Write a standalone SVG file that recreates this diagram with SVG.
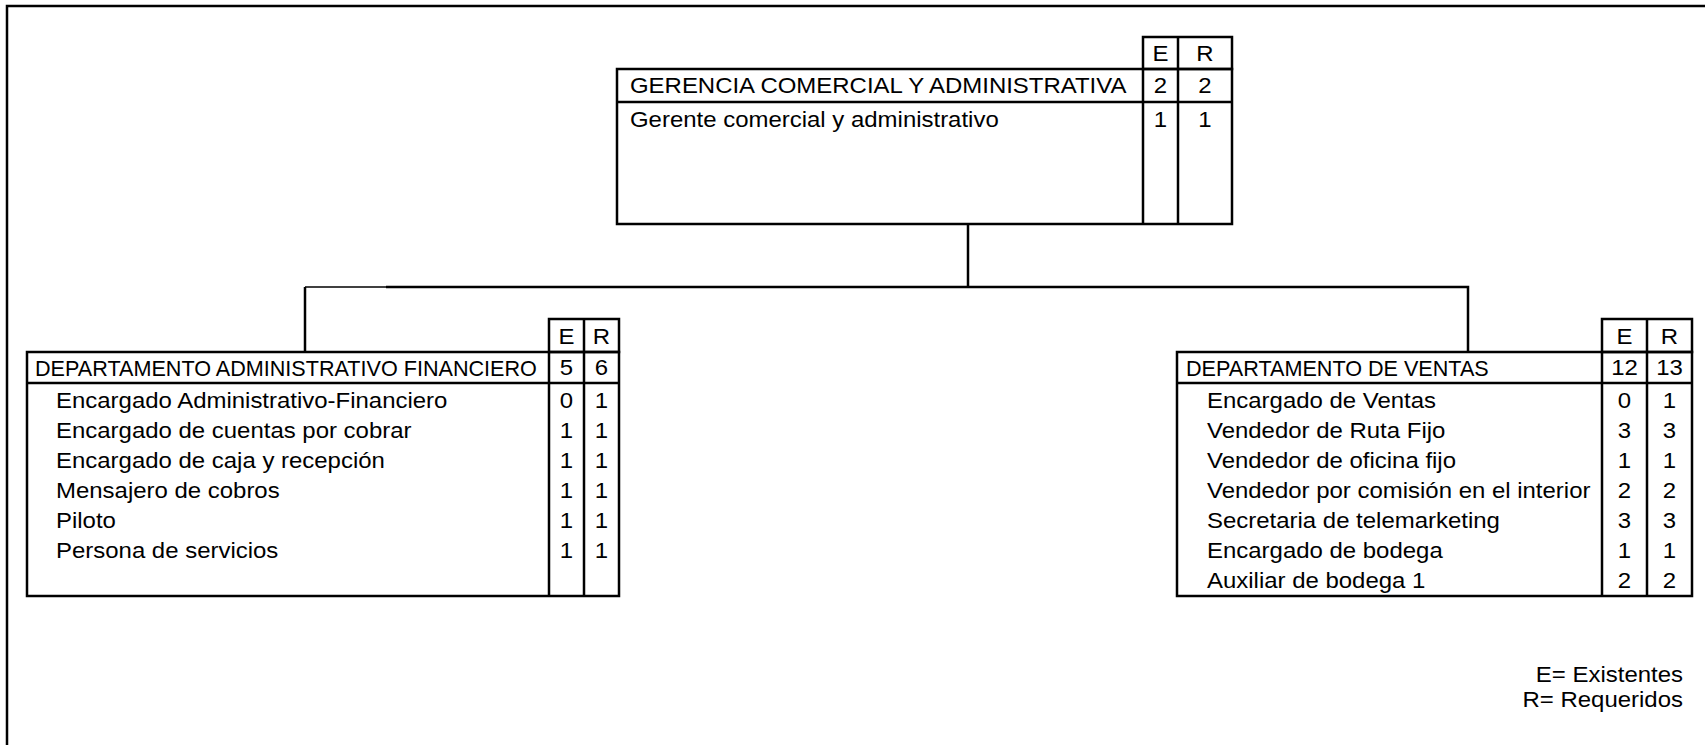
<svg xmlns="http://www.w3.org/2000/svg" width="1705" height="745" viewBox="0 0 1705 745">
  <style>
    .ln { fill: none; stroke: #000; stroke-width: 2.5; }
    .thin { fill: none; stroke: #000; stroke-width: 1.5; }
    .t { font-family: "Liberation Sans", Arial, Helvetica, sans-serif; font-size: 21.5px; fill: #000; }
    .w { transform-box: fill-box; transform-origin: left center; transform: scaleX(1.115); }
    .c { text-anchor: middle; transform-origin: center; }
    .r { text-anchor: end; transform-origin: right center; }
    .h { font-size: 21.6px; }
  </style>
  <rect width="1705" height="745" fill="#fff"/>

  <!-- page frame -->
  <path class="ln" d="M7,746 V6 H1706"/>

  <!-- connectors -->
  <g id="connectors">
    <path class="ln" d="M968,224 V287"/>
    <path class="thin" d="M305,287 H386"/>
    <path class="ln" d="M386,287 H1468 V352"/>
    <path class="ln" d="M305,287 V352"/>
  </g>

  <!-- top node -->
  <g id="gerencia">
    <rect class="ln" x="1143" y="37" width="89" height="32"/>
    <path class="ln" d="M1178,37 V224"/>
    <rect class="ln" x="617" y="69" width="615" height="155"/>
    <path class="ln" d="M617,102 H1232 M1143,69 V224"/>
    <text class="t w c" x="1160.5" y="61">E</text>
    <text class="t w c" x="1205" y="61">R</text>
    <text class="t w" x="630" y="93.5">GERENCIA COMERCIAL Y ADMINISTRATIVA</text>
    <text class="t w c" x="1160.5" y="93.5">2</text>
    <text class="t w c" x="1205" y="93.5">2</text>
    <text class="t w" x="630" y="127">Gerente comercial y administrativo</text>
    <text class="t w c" x="1160.5" y="127">1</text>
    <text class="t w c" x="1205" y="127">1</text>
  </g>

  <!-- left department -->
  <g id="dep-admin">
    <rect class="ln" x="549" y="319" width="70" height="33"/>
    <path class="ln" d="M584,319 V596"/>
    <rect class="ln" x="27" y="352" width="592" height="244"/>
    <path class="ln" d="M27,383 H619 M549,352 V596"/>
    <text class="t w c" x="566.5" y="344">E</text>
    <text class="t w c" x="601.5" y="344">R</text>
    <text class="t h" x="35" y="375.5">DEPARTAMENTO ADMINISTRATIVO FINANCIERO</text>
    <text class="t w c" x="566.5" y="375.5">5</text>
    <text class="t w c" x="601.5" y="375.5">6</text>
    <text class="t w" x="56" y="408">Encargado Administrativo-Financiero</text>
    <text class="t w" x="56" y="438">Encargado de cuentas por cobrar</text>
    <text class="t w" x="56" y="468">Encargado de caja y recepción</text>
    <text class="t w" x="56" y="498">Mensajero de cobros</text>
    <text class="t w" x="56" y="528">Piloto</text>
    <text class="t w" x="56" y="558">Persona de servicios</text>
    <text class="t w c" x="566.5" y="408">0</text><text class="t w c" x="601.5" y="408">1</text>
    <text class="t w c" x="566.5" y="438">1</text><text class="t w c" x="601.5" y="438">1</text>
    <text class="t w c" x="566.5" y="468">1</text><text class="t w c" x="601.5" y="468">1</text>
    <text class="t w c" x="566.5" y="498">1</text><text class="t w c" x="601.5" y="498">1</text>
    <text class="t w c" x="566.5" y="528">1</text><text class="t w c" x="601.5" y="528">1</text>
    <text class="t w c" x="566.5" y="558">1</text><text class="t w c" x="601.5" y="558">1</text>
  </g>

  <!-- right department -->
  <g id="dep-ventas">
    <rect class="ln" x="1602" y="319" width="90" height="33"/>
    <path class="ln" d="M1647,319 V596"/>
    <rect class="ln" x="1177" y="352" width="515" height="244"/>
    <path class="ln" d="M1177,383 H1692 M1602,352 V596"/>
    <text class="t w c" x="1624.5" y="344">E</text>
    <text class="t w c" x="1669.5" y="344">R</text>
    <text class="t h" x="1186" y="375.5">DEPARTAMENTO DE VENTAS</text>
    <text class="t w c" x="1624.5" y="375.5">12</text>
    <text class="t w c" x="1669.5" y="375.5">13</text>
    <text class="t w" x="1207" y="408">Encargado de Ventas</text>
    <text class="t w" x="1207" y="438">Vendedor de Ruta Fijo</text>
    <text class="t w" x="1207" y="468">Vendedor de oficina fijo</text>
    <text class="t w" x="1207" y="498">Vendedor por comisión en el interior</text>
    <text class="t w" x="1207" y="528">Secretaria de telemarketing</text>
    <text class="t w" x="1207" y="558">Encargado de bodega</text>
    <text class="t w" x="1207" y="588">Auxiliar de bodega 1</text>
    <text class="t w c" x="1624.5" y="408">0</text><text class="t w c" x="1669.5" y="408">1</text>
    <text class="t w c" x="1624.5" y="438">3</text><text class="t w c" x="1669.5" y="438">3</text>
    <text class="t w c" x="1624.5" y="468">1</text><text class="t w c" x="1669.5" y="468">1</text>
    <text class="t w c" x="1624.5" y="498">2</text><text class="t w c" x="1669.5" y="498">2</text>
    <text class="t w c" x="1624.5" y="528">3</text><text class="t w c" x="1669.5" y="528">3</text>
    <text class="t w c" x="1624.5" y="558">1</text><text class="t w c" x="1669.5" y="558">1</text>
    <text class="t w c" x="1624.5" y="588">2</text><text class="t w c" x="1669.5" y="588">2</text>
  </g>

  <!-- legend -->
  <g id="legend">
    <text class="t w r" x="1683" y="682">E= Existentes</text>
    <text class="t w r" x="1683" y="707">R= Requeridos</text>
  </g>
</svg>
